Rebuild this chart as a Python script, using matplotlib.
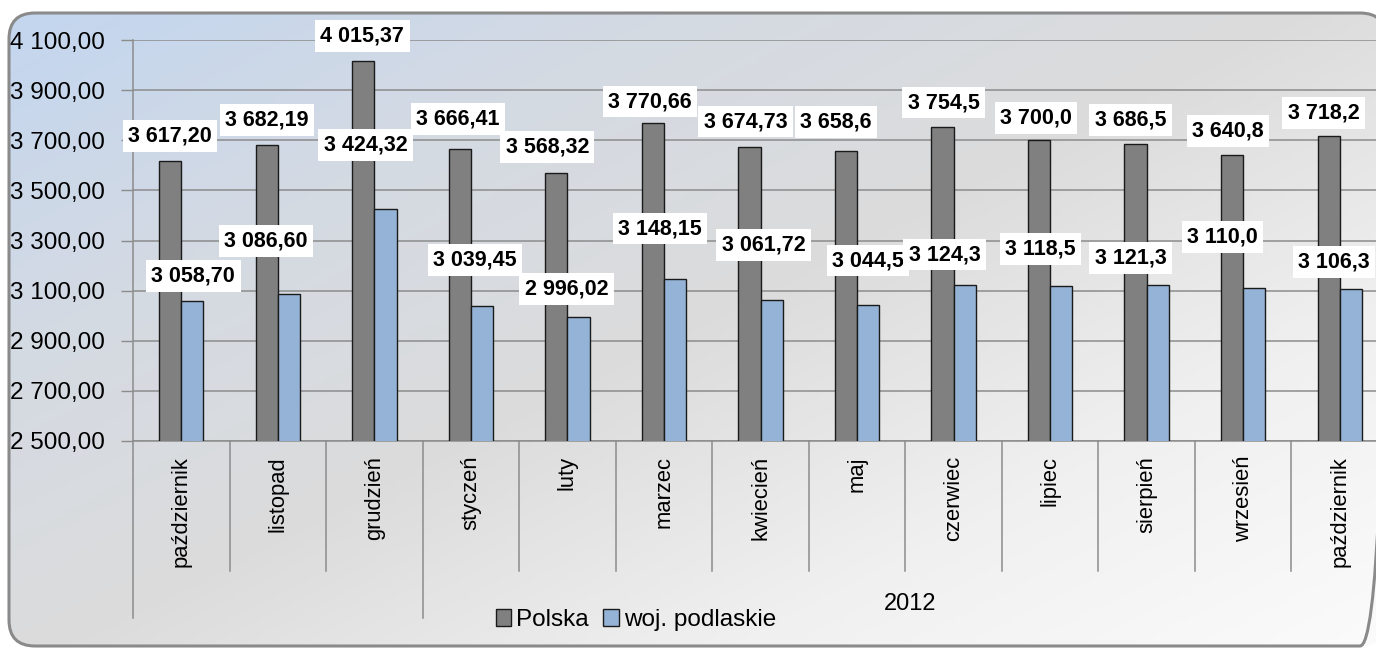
import numpy as np
import matplotlib
matplotlib.use("Agg")
import matplotlib.pyplot as plt
from matplotlib.patches import FancyBboxPatch, Patch
from matplotlib.colors import LinearSegmentedColormap
import matplotlib.transforms as mtransforms

# ---- data ----
months = ["październik", "listopad", "grudzień", "styczeń", "luty", "marzec",
          "kwiecień", "maj", "czerwiec", "lipiec", "sierpień", "wrzesień", "październik"]
polska = [3617.20, 3682.19, 4015.37, 3666.41, 3568.32, 3770.66, 3674.73,
          3658.6, 3754.5, 3700.0, 3686.5, 3640.8, 3718.2]
podlaskie = [3058.70, 3086.60, 3424.32, 3039.45, 2996.02, 3148.15, 3061.72,
             3044.5, 3124.3, 3118.5, 3121.3, 3110.0, 3106.3]
polska_lbl = ["3 617,20", "3 682,19", "4 015,37", "3 666,41", "3 568,32", "3 770,66",
              "3 674,73", "3 658,6", "3 754,5", "3 700,0", "3 686,5", "3 640,8", "3 718,2"]
podl_lbl = ["3 058,70", "3 086,60", "3 424,32", "3 039,45", "2 996,02", "3 148,15",
            "3 061,72", "3 044,5", "3 124,3", "3 118,5", "3 121,3", "3 110,0", "3 106,3"]
yticks = [2500, 2700, 2900, 3100, 3300, 3500, 3700, 3900, 4100]
ytick_lbl = ["2 500,00", "2 700,00", "2 900,00", "3 100,00", "3 300,00", "3 500,00",
             "3 700,00", "3 900,00", "4 100,00"]
groups = [("", 0, 2), ("2012", 3, 12)]
series_names = ["Polska", "woj. podlaskie"]

# label offsets (pixels) relative to bar top centre
pol_dx = [0, 0, -1, -2, -9, -3, -4, -10, 1, -3, -5, -4, -5]
pol_dy = [25, 25, 25, 30, 26, 21, 25, 29, 24, 22, 24, 24, 23]
pod_dx = [1, -23, -20, -7, -12, -15, -8, 0, -20, -21, -27, -32, -17]
pod_dy = [25, 53, 64, 46, 28, 50, 55, 44, 30, 37, 27, 51, 27]

W, H = 1376, 648
DPI = 100
plt.rcParams['font.family'] = ['Liberation Sans', 'DejaVu Sans']

fig = plt.figure(figsize=(W / DPI, H / DPI), dpi=DPI)
fig.patch.set_facecolor("white")

# background gradient in a rounded frame
bg = fig.add_axes([0, 0, 1, 1])
bg.set_xlim(0, W)
bg.set_ylim(H, 0)
bg.axis("off")
xx, yy = np.meshgrid(np.linspace(0, 1, 300), np.linspace(0, 1, 150))
t = (xx * 1.0 + yy * 0.9) / 1.9
cmap = LinearSegmentedColormap.from_list("bg", ["#c3d6ef", "#d4dae3", "#dcdcdc", "#f0f0f0", "#fbfbfb"])
frame = FancyBboxPatch((9, 13), 1377, 633, boxstyle="round,pad=0,rounding_size=26",
                       facecolor="none", edgecolor="#8a8a8a", linewidth=2.2, zorder=3)
bg.add_patch(frame)
im = bg.imshow(t, cmap=cmap, extent=(9, 1386, 646, 13), aspect="auto", zorder=1)
im.set_clip_path(frame)

# main axes
x0, x1 = 133, 1388
ytop, ybot = 40, 441
ax = fig.add_axes([x0 / W, (H - ybot) / H, (x1 - x0) / W, (ybot - ytop) / H])
ax.patch.set_alpha(0)
n = len(months)
x = np.arange(n)
bw = 0.23
ax.bar(x - bw / 2, polska, width=bw, color="#808080", edgecolor="#1a1a1a", linewidth=1.0, zorder=3)
ax.bar(x + bw / 2, podlaskie, width=bw, color="#95b3d7", edgecolor="#1a1a1a", linewidth=1.0, zorder=3)
ax.set_xlim(-0.5, n - 0.5)
ax.set_ylim(2500, 4100)
ax.set_yticks(yticks)
ax.set_yticklabels(ytick_lbl, fontsize=17.5)
ax.tick_params(axis="y", length=9, width=1, color="#8c8c8c", pad=11)
ax.set_xticks([])
ax.yaxis.grid(True, color="#8c8c8c", linewidth=1.1, zorder=0)
for s in ["top", "right"]:
    ax.spines[s].set_visible(False)
for s in ["left", "bottom"]:
    ax.spines[s].set_color("#8c8c8c")
    ax.spines[s].set_linewidth(1.1)

# data labels
bbox = dict(boxstyle="square,pad=0.25", facecolor="white", edgecolor="none")
for i in range(n):
    ax.annotate(polska_lbl[i], (x[i] - bw / 2, polska[i]), xytext=(pol_dx[i], pol_dy[i]),
                textcoords="offset pixels", ha="center", va="center", fontsize=15.5,
                fontweight="bold", bbox=bbox, zorder=6, annotation_clip=False)
    ax.annotate(podl_lbl[i], (x[i] + bw / 2, podlaskie[i]), xytext=(pod_dx[i], pod_dy[i]),
                textcoords="offset pixels", ha="center", va="center", fontsize=15.5,
                fontweight="bold", bbox=bbox, zorder=6, annotation_clip=False)

# category axis (multi-level)
trans = mtransforms.blended_transform_factory(ax.transData, ax.transAxes)
ph = ybot - ytop
short = -(571 - ybot) / ph
long_ = -(618 - ybot) / ph
lab_y = -(456 - ybot) / ph
grp_y = -(604 - ybot) / ph
group_edges = {g[1] for g in groups}
for b in range(n + 1):
    xb = b - 0.5
    y_end = long_ if (b in group_edges or b == n) else short
    ax.plot([xb, xb], [0, y_end], transform=trans, color="#8c8c8c", lw=1.1, clip_on=False, zorder=2)
for i, m in enumerate(months):
    ax.text(i, lab_y, m, transform=trans, rotation=90, ha="center", va="top", fontsize=15.8)
for name, a, b in groups:
    if name:
        ax.text((a + b) / 2 + 0.05, grp_y, name, transform=trans, ha="center", va="center", fontsize=17)

# legend
handles = [Patch(facecolor="#808080", edgecolor="#1a1a1a", linewidth=1.0),
           Patch(facecolor="#95b3d7", edgecolor="#1a1a1a", linewidth=1.0)]
fig.legend(handles, series_names, loc="center", bbox_to_anchor=(636 / W, 1 - 620 / H),
           ncol=2, frameon=False, fontsize=17.5, handlelength=0.65, handleheight=0.65,
           handletextpad=0.2, columnspacing=0.6, borderpad=0)

fig.savefig("out.png", dpi=DPI)
